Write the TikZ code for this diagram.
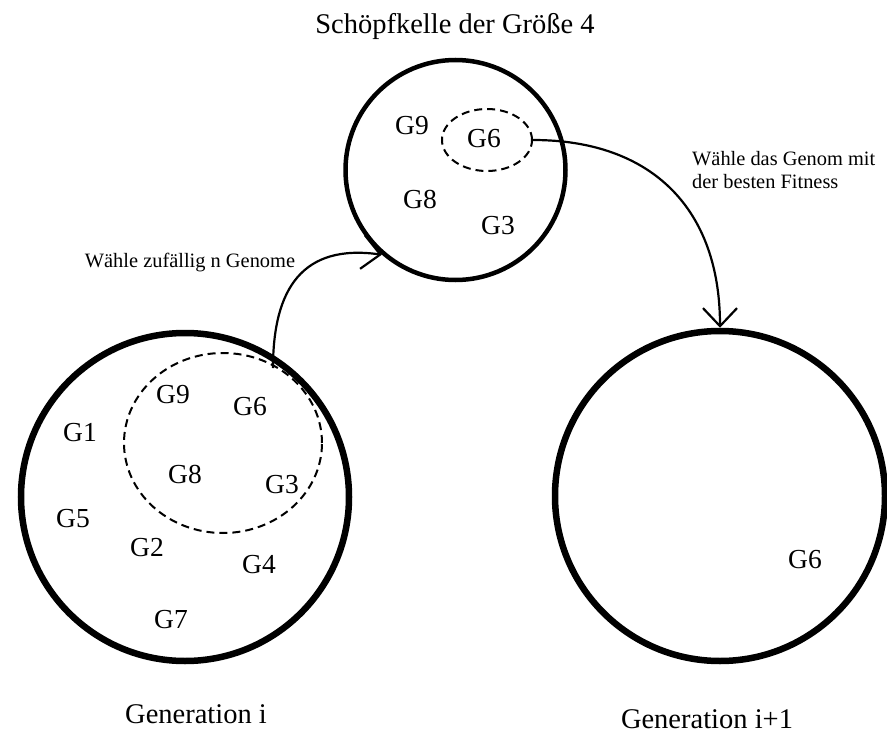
\documentclass[tikz,border=0pt]{standalone}
\usepackage{fontspec}
\setmainfont{Liberation Serif}
\usetikzlibrary{arrows.meta,shapes.geometric}
\begin{document}
\begin{tikzpicture}[x=1pt,y=-1pt,
  popring/.style={circle, draw, line width=6.5pt, inner sep=0pt, minimum size=#1},
  scoopring/.style={circle, draw, line width=4.5pt, inner sep=0pt, minimum size=#1},
  pickset/.style={ellipse, draw, line width=2pt, dash pattern=on 8pt off 5pt,
                  inner sep=0pt, minimum width=#1},
  gene/.style={inner sep=0pt, font=\fontsize{27.5}{30}\selectfont},
  caption/.style={inner sep=0pt, anchor=base, font=\fontsize{28.5}{32}\selectfont},
  note/.style={inner sep=0pt, font=\fontsize{20.4}{23.3}\selectfont},
  link/.style={line width=2.2pt, -{Straight Barb[length=18pt,width=34pt]}}
]
\useasboundingbox (0,0) rectangle (887,736);

% the three populations
\node[popring=328pt] (genI) at (185,497) {};
\node[scoopring=220pt] (scoop) at (455.5,170) {};
\node[popring=330pt] (genNext) at (720,496) {};

% dashed selections
\node[pickset=198pt, minimum height=180pt] (sample) at (223,443) {};
\node[pickset=90pt, minimum height=62pt] (sel) at (487,140) {};

% genomes of generation i
\node[gene] (a9) at (173,395) {G9};
\node[gene] (a6) at (250,407) {G6};
\node[gene] (a1) at (80,433) {G1};
\node[gene] (a8) at (185,474) {G8};
\node[gene] (a3) at (282,485) {G3};
\node[gene] (a5) at (73,519) {G5};
\node[gene] (a2) at (147,548) {G2};
\node[gene] (a4) at (259,565) {G4};
\node[gene] (a7) at (171,620) {G7};

% genomes in the scoop
\node[gene] (b9) at (412,126) {G9};
\node[gene] (b6) at (484,139) {G6};
\node[gene] (b8) at (420,199) {G8};
\node[gene] (b3) at (498,226) {G3};

% genome of generation i+1
\node[gene] (c6) at (805,560) {G6};

% captions
\node[caption] (title) at (455,33) {Schöpfkelle der Größe 4};
\node[caption] (capI) at (196,723) {Generation i};
\node[caption] (capNext) at (707,728) {Generation i+1};

% connector labels
\node[note, anchor=base] (pickLabel) at (190,267) {Wähle zufällig n Genome};
\node[note, anchor=north west, align=left] (bestLabel) at (692,151)
  {Wähle das Genom mit\\der besten Fitness};

% connectors
\coordinate (pickStart) at (273,368);
\draw[link] (pickStart) to[out=90, in=172, looseness=1.3] (scoop.229);
\draw[link] (sel.east) to[out=0, in=90, looseness=1.15] (genNext.north);
\end{tikzpicture}
\end{document}
